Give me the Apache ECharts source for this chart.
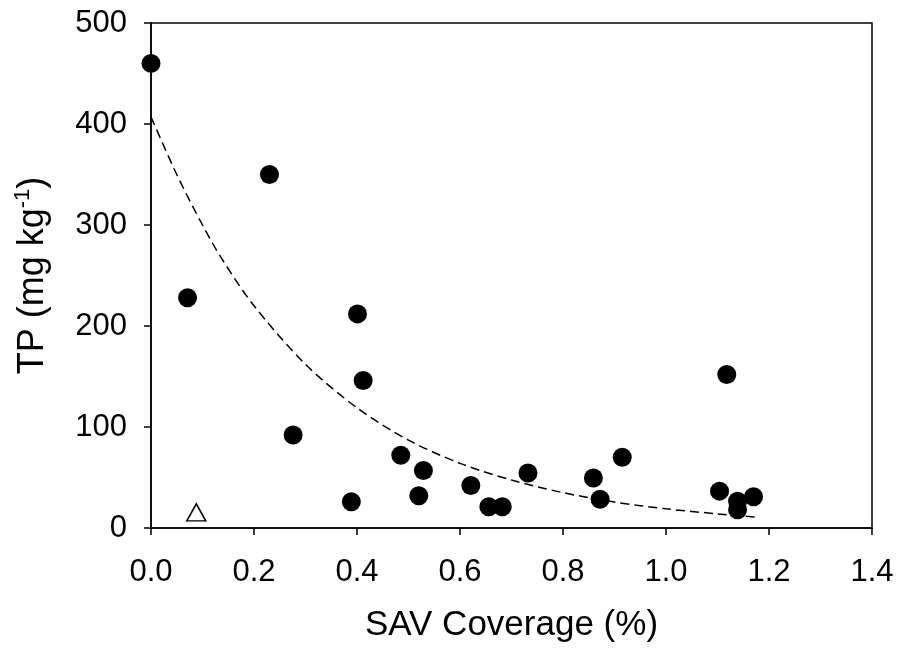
<!DOCTYPE html>
<html>
<head>
<meta charset="utf-8">
<script src="https://cdn.jsdelivr.net/npm/echarts@6/dist/echarts.min.js"></script>
<style>html,body{margin:0;padding:0;background:#fff}#c{width:900px;height:650px}</style>
</head>
<body>
<div id="c"></div>
<script>
// Observed points (SAV coverage %, TP mg/kg)
const savCoverage = [0.000, 0.230, 0.071, 0.401, 0.412, 0.276, 0.389, 0.485, 0.529, 0.520, 0.621, 0.656, 0.682, 0.732, 0.859, 0.872, 0.915, 1.118, 1.104, 1.139, 1.139, 1.170];
const tpValues    = [460,   350,   228,   212,   146,   92,    26,    72,    57,    32,    42,    21,    21,    54.5,  49.5,  28.5,  70,    152,   36.5,  26.5,  18,    31];
// Open triangle point
const triX = [0.088];
const triY = [15.5];
// Fitted curve
const fitX = [0, 0.05, 0.1, 0.137, 0.2, 0.3, 0.4, 0.5, 0.6, 0.7, 0.8, 0.9, 1.0, 1.1, 1.172];
const fitY = [407, 350, 300, 267, 220, 162, 119, 87, 64, 47.5, 35, 25.7, 19, 14, 11];
// Axis ticks
const xTicks = [0.0, 0.2, 0.4, 0.6, 0.8, 1.0, 1.2, 1.4];
const yTicks = [0, 100, 200, 300, 400, 500];

const zip = (a, b) => a.map((v, i) => [v, b[i]]);
const FONT = 'Liberation Sans, Arial, sans-serif';
const chart = echarts.init(document.getElementById('c'), null, {renderer: 'canvas'});
chart.setOption({
  animation: false,
  backgroundColor: '#fff',
  grid: {left: 151, right: 28, top: 23, bottom: 122, show: true, borderColor: '#000', borderWidth: 1.5, backgroundColor: 'transparent'},
  xAxis: {
    type: 'value', min: xTicks[0], max: xTicks[xTicks.length - 1], interval: 0.2,
    name: 'SAV Coverage (%)', nameLocation: 'middle', nameGap: 80,
    nameTextStyle: {fontFamily: FONT, fontSize: 35, color: '#000'},
    axisLine: {show: true, lineStyle: {color: '#000', width: 1.5}},
    axisTick: {show: true, inside: false, length: 7, lineStyle: {color: '#000', width: 1.5}},
    axisLabel: {fontFamily: FONT, fontSize: 31, color: '#000', margin: 29, formatter: v => v.toFixed(1)},
    splitLine: {show: false}
  },
  yAxis: {
    type: 'value', min: yTicks[0], max: yTicks[yTicks.length - 1], interval: 100,
    name: '{a|TP (mg kg}{s|-1}{a|)}', nameLocation: 'middle', nameGap: 97, nameRotate: 90,
    nameTextStyle: {fontFamily: FONT, fontSize: 36, color: '#000',
      rich: {a: {fontFamily: FONT, fontSize: 36, color: '#000', lineHeight: 42},
             s: {fontFamily: FONT, fontSize: 22, color: '#000', verticalAlign: 'top', lineHeight: 42}}},
    axisLine: {show: true, lineStyle: {color: '#000', width: 1.5}},
    axisTick: {show: true, inside: false, length: 7, lineStyle: {color: '#000', width: 1.5}},
    axisLabel: {fontFamily: FONT, fontSize: 31, color: '#000', margin: 24},
    splitLine: {show: false}
  },
  series: [
    {type: 'line', data: zip(fitX, fitY), smooth: 0.3, symbol: 'none', clip: false,
     lineStyle: {color: '#000', width: 1.5, type: [9, 5]}, z: 1},
    {type: 'scatter', data: zip(savCoverage, tpValues), symbol: 'circle', symbolSize: 19, clip: false,
     itemStyle: {color: '#000', opacity: 1}, z: 2},
    {type: 'scatter', data: zip(triX, triY), symbol: 'triangle', symbolSize: [19, 17], clip: false,
     itemStyle: {color: '#fff', borderColor: '#000', borderWidth: 1.5, opacity: 1}, z: 3}
  ]
});
</script>
</body>
</html>
